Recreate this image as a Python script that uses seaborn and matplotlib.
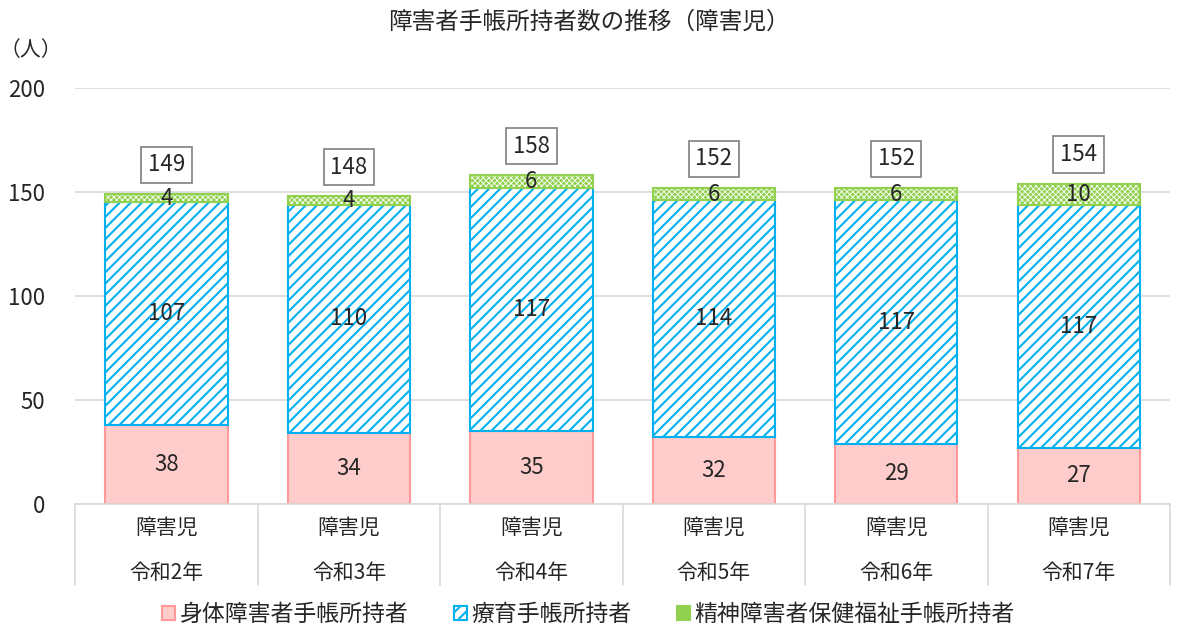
import matplotlib
matplotlib.use('Agg')
import matplotlib.pyplot as plt
from matplotlib.patches import Patch
import pandas as pd
import seaborn as sns

# data
years = ['令和2年', '令和3年', '令和4年', '令和5年', '令和6年', '令和7年']
group_label = '障害児'
shintai = [38, 34, 35, 32, 29, 27]
ryouiku = [107, 110, 117, 114, 117, 117]
seishin = [4, 4, 6, 6, 6, 10]
series_names = ['身体障害者手帳所持者', '療育手帳所持者', '精神障害者保健福祉手帳所持者']

df = pd.DataFrame({'year': years, 'shintai': shintai, 'ryouiku': ryouiku, 'seishin': seishin})
df['base2'] = df['shintai']
df['base3'] = df['shintai'] + df['ryouiku']
df['total'] = df['base3'] + df['seishin']

sns.set_style('white')
plt.rcParams['font.family'] = ['Noto Sans CJK JP', 'DejaVu Sans']
plt.rcParams['hatch.linewidth'] = 1.5

NUM_SIZE = 16
PINK_F, PINK_E = '#FFCCCC', '#FF9999'
BLUE = '#00B0F0'
GREEN = '#92D050'

fig = plt.figure(figsize=(11.77, 6.38), dpi=100)
ax = fig.add_axes([0.064, 0.21, 0.930, 0.652])

w = 0.67
sns.barplot(data=df, x='year', y='shintai', color=PINK_F, edgecolor=PINK_E, linewidth=1.5,
            saturation=1, width=w, errorbar=None, ax=ax)
sns.barplot(data=df, x='year', y='ryouiku', bottom=df['base2'], color='white', edgecolor=BLUE,
            linewidth=1.5, hatch='///', saturation=1, width=w, errorbar=None, ax=ax)
n_before = len(ax.patches)
sns.barplot(data=df, x='year', y='seishin', bottom=df['base3'], color=GREEN, edgecolor='white',
            linewidth=0, hatch='xxxxxx', saturation=1, width=w, errorbar=None, ax=ax)
for p in ax.patches[n_before:]:
    if hasattr(p, 'set_hatch_linewidth'):
        p.set_hatch_linewidth(0.6)
    # green outline on top of the white crosshatch
    ax.add_patch(plt.Rectangle(p.get_xy(), p.get_width(), p.get_height(),
                               fill=False, edgecolor=GREEN, linewidth=1.5))

# segment labels
num_kw = dict(ha='center', va='center', fontsize=NUM_SIZE)
for i, row in df.iterrows():
    ax.text(i, row['shintai'] / 2, str(row['shintai']), **num_kw)
    ax.text(i, row['base2'] + row['ryouiku'] / 2, str(row['ryouiku']), **num_kw)
    ax.text(i, row['base3'] + row['seishin'] / 2, str(row['seishin']), **num_kw)
    ax.text(i, row['total'] + 14, str(row['total']), **num_kw,
            bbox=dict(boxstyle='square,pad=0.3', facecolor='white', edgecolor='#7F7F7F', linewidth=1.2))

ax.set_ylim(0, 200)
ax.set_xlim(-0.5, len(years) - 0.5)
ax.set_yticks([0, 50, 100, 150, 200])
ax.yaxis.grid(True, color='#D9D9D9', linewidth=1.2)
ax.set_axisbelow(True)
for s in ['top', 'right', 'left']:
    ax.spines[s].set_visible(False)
ax.spines['bottom'].set_color('#D9D9D9')
ax.spines['bottom'].set_linewidth(1.2)
ax.tick_params(axis='y', length=0, pad=22, labelsize=NUM_SIZE)
ax.set_xticks([])
ax.set_xlabel('')
ax.set_ylabel('')

# two-row category labels with separators
trans = ax.get_xaxis_transform()
for i, yr in enumerate(years):
    ax.text(i, -0.058, group_label, transform=trans, ha='center', va='center', fontsize=15)
    ax.text(i, -0.166, yr, transform=trans, ha='center', va='center', fontsize=15)
for xb in range(len(years) + 1):
    ax.plot([xb - 0.5, xb - 0.5], [0, -0.195], transform=trans, color='#D9D9D9',
            linewidth=1.2, clip_on=False)

fig.text(0.5, 0.965, '障害者手帳所持者数の推移（障害児）', ha='center', va='center', fontsize=17)
fig.text(0.026, 0.922, '（人）', ha='center', va='center', fontsize=15)

handles = [Patch(facecolor=PINK_F, edgecolor=PINK_E, linewidth=1.5),
           Patch(facecolor='white', edgecolor=BLUE, hatch='///', linewidth=1.5),
           Patch(facecolor=GREEN, edgecolor=GREEN, linewidth=1.5)]
fig.legend(handles, series_names, loc='lower center', bbox_to_anchor=(0.5, -0.014), ncol=3,
           frameon=False, fontsize=16.5, handlelength=0.55, handleheight=0.55, handletextpad=0.2,
           columnspacing=2.0)

fig.savefig('out.png', dpi=100)
